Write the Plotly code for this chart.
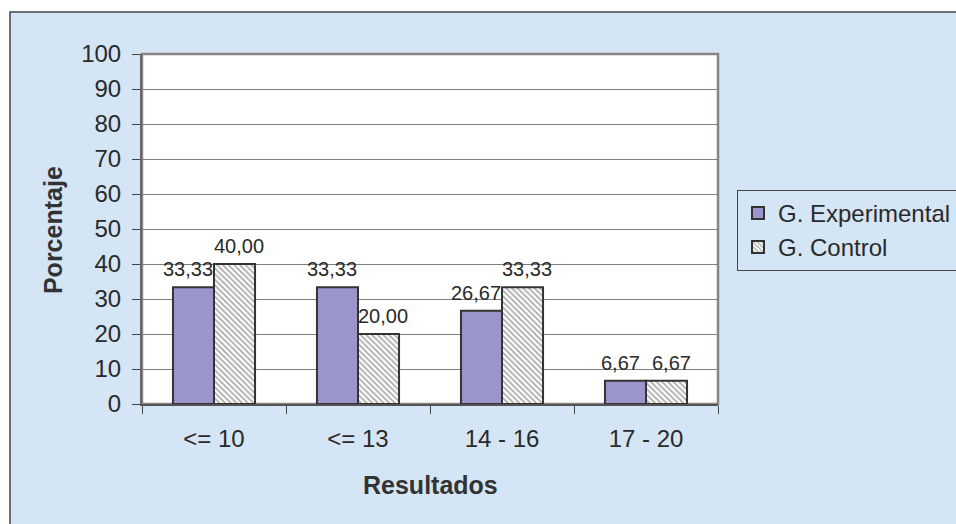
import plotly.graph_objects as go

# Score ranges and percentage of students in each group
categories = ["<= 10", "<= 13", "14 - 16", "17 - 20"]
experimental = [33.33, 33.33, 26.67, 6.67]
control = [40.00, 20.00, 33.33, 6.67]
y_ticks = list(range(0, 101, 10))


def fmt(v):
    return f"{v:.2f}".replace(".", ",")


FONT = "Liberation Sans, Arial, sans-serif"
BG = "#d4e5f5"
EDGE = "#333333"
TXT = "#2a2a2a"

fig = go.Figure()
fig.add_trace(go.Bar(
    name="G. Experimental", x=categories, y=experimental,
    marker=dict(color="#9a96cc", line=dict(color=EDGE, width=2)),
))
fig.add_trace(go.Bar(
    name="G. Control", x=categories, y=control,
    marker=dict(color="white", line=dict(color=EDGE, width=2),
                pattern=dict(shape="\\", size=4, solidity=0.45,
                             fgcolor="#555555", bgcolor="white")),
))

# Value labels above each bar, pushed apart a little so neighbours don't collide
value_labels = []
for cat, ve, vc in zip(categories, experimental, control):
    for val, shift in ((ve, -26), (vc, 25)):
        value_labels.append(dict(
            x=cat, y=val, xref="x", yref="y", text=fmt(val),
            showarrow=False, xanchor="center", yanchor="bottom",
            xshift=shift, yshift=5,
            font=dict(size=20, family=FONT, color=TXT),
        ))

fig.update_layout(
    width=956, height=524,
    margin=dict(l=142, r=238, t=54, b=120, autoexpand=False),
    paper_bgcolor="white",
    plot_bgcolor="white",
    barmode="group", bargap=0.43, bargroupgap=0,
    font=dict(family=FONT, color=TXT),
    showlegend=True,
    legend=dict(
        x=595 / 576, y=0.612, xanchor="left", yanchor="top",
        bgcolor="rgba(0,0,0,0)", bordercolor="#444444", borderwidth=1,
        font=dict(size=24, family=FONT, color=TXT),
        itemwidth=30, tracegroupgap=0,
    ),
    shapes=[
        # outer chart panel
        dict(type="rect", xref="paper", yref="paper", layer="below",
             x0=-132 / 576, x1=830 / 576, y0=-140 / 350, y1=392 / 350,
             fillcolor=BG, line=dict(color="#444444", width=1.5)),
        # plotting area
        dict(type="rect", xref="paper", yref="paper", layer="below",
             x0=0, x1=1, y0=0, y1=1,
             fillcolor="white", line=dict(color="#8a8585", width=2.5)),
    ],
    annotations=value_labels + [
        dict(text="<b>Porcentaje</b>", xref="paper", yref="paper",
             x=-89 / 576, y=0.497, textangle=-90, showarrow=False,
             xanchor="center", yanchor="middle",
             font=dict(size=25, family=FONT, color="#333333")),
        dict(text="<b>Resultados</b>", xref="paper", yref="paper",
             x=0.5, y=-81 / 350, showarrow=False,
             xanchor="center", yanchor="middle",
             font=dict(size=25, family=FONT, color="#333333")),
    ],
)

fig.update_yaxes(
    range=[0, 100], tickvals=y_ticks, showgrid=True, gridcolor="#808080",
    gridwidth=1, zeroline=False, ticks="outside", ticklen=8,
    tickcolor="#444444", showline=True, linecolor="#666666", linewidth=2,
    tickfont=dict(size=24, family=FONT, color=TXT),
    ticklabelstandoff=6,
)
fig.update_xaxes(
    tickson="boundaries", ticks="outside", ticklen=8, tickcolor="#444444",
    showline=True, linecolor="#555555", linewidth=2, showgrid=False,
    tickfont=dict(size=24, family=FONT, color=TXT),
    ticklabelstandoff=12,
)

fig.write_html("out.html")
